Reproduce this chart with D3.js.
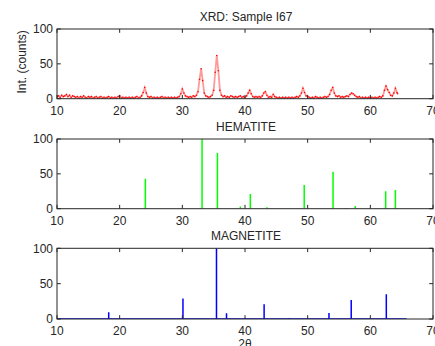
<!DOCTYPE html>
<html>
<head>
<meta charset="utf-8">
<script src="https://cdn.jsdelivr.net/npm/d3@7"></script>
<style>
  body { margin: 0; background: #fff; }
  text { font-family: "Liberation Sans", Arial, sans-serif; fill: #262626; }
</style>
</head>
<body>
<svg width="435" height="346"></svg>
<script>
// measured sample pattern, [2theta, counts]
const sample = [
  [10.0,3],[10.25,4],[10.5,2],[10.75,5],[11.0,3],[11.25,4],[11.5,6],[11.75,3],[12.0,5],[12.25,2],
  [12.5,4],[12.75,3],[13.0,2],[13.25,3],[13.5,1],[13.75,3],[14.0,2],[14.25,4],[14.5,2],[14.75,1],
  [15.0,3],[15.25,2],[15.5,3],[15.75,1],[16.0,2],[16.25,3],[16.5,1],[16.75,2],[17.0,3],[17.25,1],
  [17.5,2],[17.75,1],[18.0,2],[18.25,3],[18.5,1],[18.75,2],[19.0,1],[19.25,2],[19.5,1],[19.75,3],
  [20.0,4],[20.25,1],[20.5,2],[20.75,1],[21.0,2],[21.25,1],[21.5,2],[21.75,1],[22.0,2],[22.25,1],
  [22.5,2],[22.75,3],[23.0,1],[23.25,2],[23.5,4],[23.75,9],[24.0,16],[24.25,8],[24.5,3],[24.75,2],
  [25.0,3],[25.25,1],[25.5,2],[25.75,1],[26.0,2],[26.25,1],[26.5,2],[26.75,3],[27.0,1],[27.25,2],
  [27.5,1],[27.75,2],[28.0,1],[28.25,2],[28.5,1],[28.75,2],[29.0,1],[29.25,2],[29.5,3],[29.75,7],
  [30.0,14],[30.25,8],[30.5,4],[30.75,3],[31.0,2],[31.25,3],[31.5,2],[31.75,4],[32.0,3],[32.25,5],
  [32.5,10],[32.75,28],[33.0,43],[33.25,26],[33.5,8],[33.75,4],[34.0,3],[34.25,2],[34.5,3],[34.75,5],
  [35.0,12],[35.25,38],[35.5,62],[35.75,40],[36.0,12],[36.25,5],[36.5,3],[36.75,4],[37.0,2],[37.25,3],
  [37.5,2],[37.75,4],[38.0,3],[38.25,2],[38.5,3],[38.75,2],[39.0,3],[39.25,4],[39.5,2],[39.75,3],
  [40.0,2],[40.25,4],[40.5,8],[40.75,12],[41.0,7],[41.25,3],[41.5,2],[41.75,3],[42.0,2],[42.25,3],
  [42.5,2],[42.75,4],[43.0,8],[43.25,10],[43.5,5],[43.75,2],[44.0,3],[44.25,2],[44.5,6],[44.75,3],
  [45.0,2],[45.25,1],[45.5,2],[45.75,1],[46.0,2],[46.25,1],[46.5,2],[46.75,1],[47.0,2],[47.25,1],
  [47.5,2],[47.75,1],[48.0,2],[48.25,3],[48.5,2],[48.75,4],[49.0,8],[49.25,15],[49.5,9],[49.75,4],
  [50.0,3],[50.25,2],[50.5,1],[50.75,2],[51.0,1],[51.25,3],[51.5,2],[51.75,1],[52.0,2],[52.25,1],
  [52.5,2],[52.75,3],[53.0,2],[53.25,3],[53.5,6],[53.75,12],[54.0,16],[54.25,8],[54.5,4],[54.75,3],
  [55.0,4],[55.25,2],[55.5,3],[55.75,2],[56.0,3],[56.25,4],[56.5,3],[56.75,6],[57.0,8],[57.25,7],
  [57.5,5],[57.75,3],[58.0,2],[58.25,3],[58.5,1],[58.75,2],[59.0,1],[59.25,2],[59.5,1],[59.75,2],
  [60.0,1],[60.25,2],[60.5,1],[60.75,2],[61.0,1],[61.25,2],[61.5,3],[61.75,2],[62.0,4],[62.25,12],
  [62.5,18],[62.75,13],[63.0,9],[63.25,5],[63.5,4],[63.75,8],[64.0,15],[64.25,9],[64.35,7]
];

// reference patterns
const hemPos = [24.1, 33.15, 35.6, 39.25, 40.85, 43.5, 49.45, 54.05, 56.15, 57.6, 62.45, 64.0];
const hemInt = [43, 100, 80, 3, 21, 2, 34, 53, 1, 4, 25, 27];
const magPos = [18.25, 30.1, 35.45, 37.05, 43.05, 47.1, 53.4, 56.95, 62.55];
const magInt = [9.5, 29, 100, 8, 21, 1, 8.5, 27, 35];
const magRange = [10, 65.8];

const xTicks = [10, 20, 30, 40, 50, 60, 70];
const yTicks = [0, 50, 100];

const svg = d3.select('svg');
const left = 57, right = 433;
const panels = [
  { top: 29, bottom: 98.7, title: 'XRD: Sample I67' },
  { top: 139, bottom: 208.7, title: 'HEMATITE' },
  { top: 248.3, bottom: 319, title: 'MAGNETITE' }
];

const x = d3.scaleLinear().domain([10, 70]).range([left, right]);

function drawPanel(p) {
  p.y = d3.scaleLinear().domain([0, 100]).range([p.bottom, p.top]);
  const id = 'clip' + Math.round(p.top);
  svg.append('clipPath').attr('id', id)
    .append('rect').attr('x', left).attr('y', p.top).attr('width', right - left).attr('height', p.bottom - p.top);
  p.plot = svg.append('g').attr('clip-path', `url(#${id})`);
  return p;
}

function drawFrame(p) {
  const y = p.y;
  const g = svg.append('g');
  const tl = 3.8;
  g.append('rect')
    .attr('x', left).attr('y', p.top)
    .attr('width', right - left).attr('height', p.bottom - p.top)
    .attr('fill', 'none').attr('stroke', '#262626').attr('stroke-width', 1);
  xTicks.forEach(t => {
    g.append('line').attr('x1', x(t)).attr('x2', x(t)).attr('y1', p.bottom).attr('y2', p.bottom - tl)
      .attr('stroke', '#262626');
    g.append('line').attr('x1', x(t)).attr('x2', x(t)).attr('y1', p.top).attr('y2', p.top + tl)
      .attr('stroke', '#262626');
    g.append('text').attr('x', x(t)).attr('y', p.bottom + 16)
      .attr('text-anchor', 'middle').attr('font-size', 12).text(t);
  });
  yTicks.forEach(t => {
    g.append('line').attr('x1', left).attr('x2', left + tl).attr('y1', y(t)).attr('y2', y(t))
      .attr('stroke', '#262626');
    g.append('line').attr('x1', right).attr('x2', right - tl).attr('y1', y(t)).attr('y2', y(t))
      .attr('stroke', '#262626');
    g.append('text').attr('x', left - 4).attr('y', y(t) + 4.3)
      .attr('text-anchor', 'end').attr('font-size', 12).text(t);
  });
  g.append('text').attr('x', (left + right) / 2 + 1).attr('y', p.top - 8)
    .attr('text-anchor', 'middle').attr('font-size', 12).text(p.title);
}

panels.forEach(drawPanel);

// sample trace: pale line with darker points
const p0 = panels[0];
const line = d3.line().x(d => x(d[0])).y(d => p0.y(d[1]));
p0.plot.append('path').datum(sample)
  .attr('d', line).attr('fill', 'none')
  .attr('stroke', '#ff9a9a').attr('stroke-width', 1.8);
p0.plot.selectAll('circle').data(sample).enter().append('circle')
  .attr('cx', d => x(d[0])).attr('cy', d => p0.y(d[1]))
  .attr('r', 0.8).attr('fill', '#ff0000');

// hematite sticks
const p1 = panels[1];
p1.plot.selectAll('line').data(hemPos).enter().append('line')
  .attr('x1', d => x(d)).attr('x2', d => x(d))
  .attr('y1', p1.y(0)).attr('y2', (d, i) => p1.y(hemInt[i]))
  .attr('stroke', '#00ff00').attr('stroke-width', 1.5);

// magnetite sticks
const p2 = panels[2];
p2.plot.append('line')
  .attr('x1', x(magRange[0])).attr('x2', x(magRange[1]))
  .attr('y1', p2.y(0)).attr('y2', p2.y(0))
  .attr('stroke', '#0000ff').attr('stroke-width', 1.5);
p2.plot.selectAll('line.stick').data(magPos).enter().append('line').attr('class', 'stick')
  .attr('x1', d => x(d)).attr('x2', d => x(d))
  .attr('y1', p2.y(0)).attr('y2', (d, i) => p2.y(magInt[i]))
  .attr('stroke', '#0000ff').attr('stroke-width', 1.5);

panels.forEach(drawFrame);

// axis labels
svg.append('text')
  .attr('transform', `translate(26, ${(p0.top + p0.bottom) / 2 - 2}) rotate(-90)`)
  .attr('text-anchor', 'middle').attr('font-size', 12).text('Int. (counts)');
svg.append('text').attr('x', 245).attr('y', 348)
  .attr('text-anchor', 'middle').attr('font-size', 12).text('2θ');
</script>
</body>
</html>
